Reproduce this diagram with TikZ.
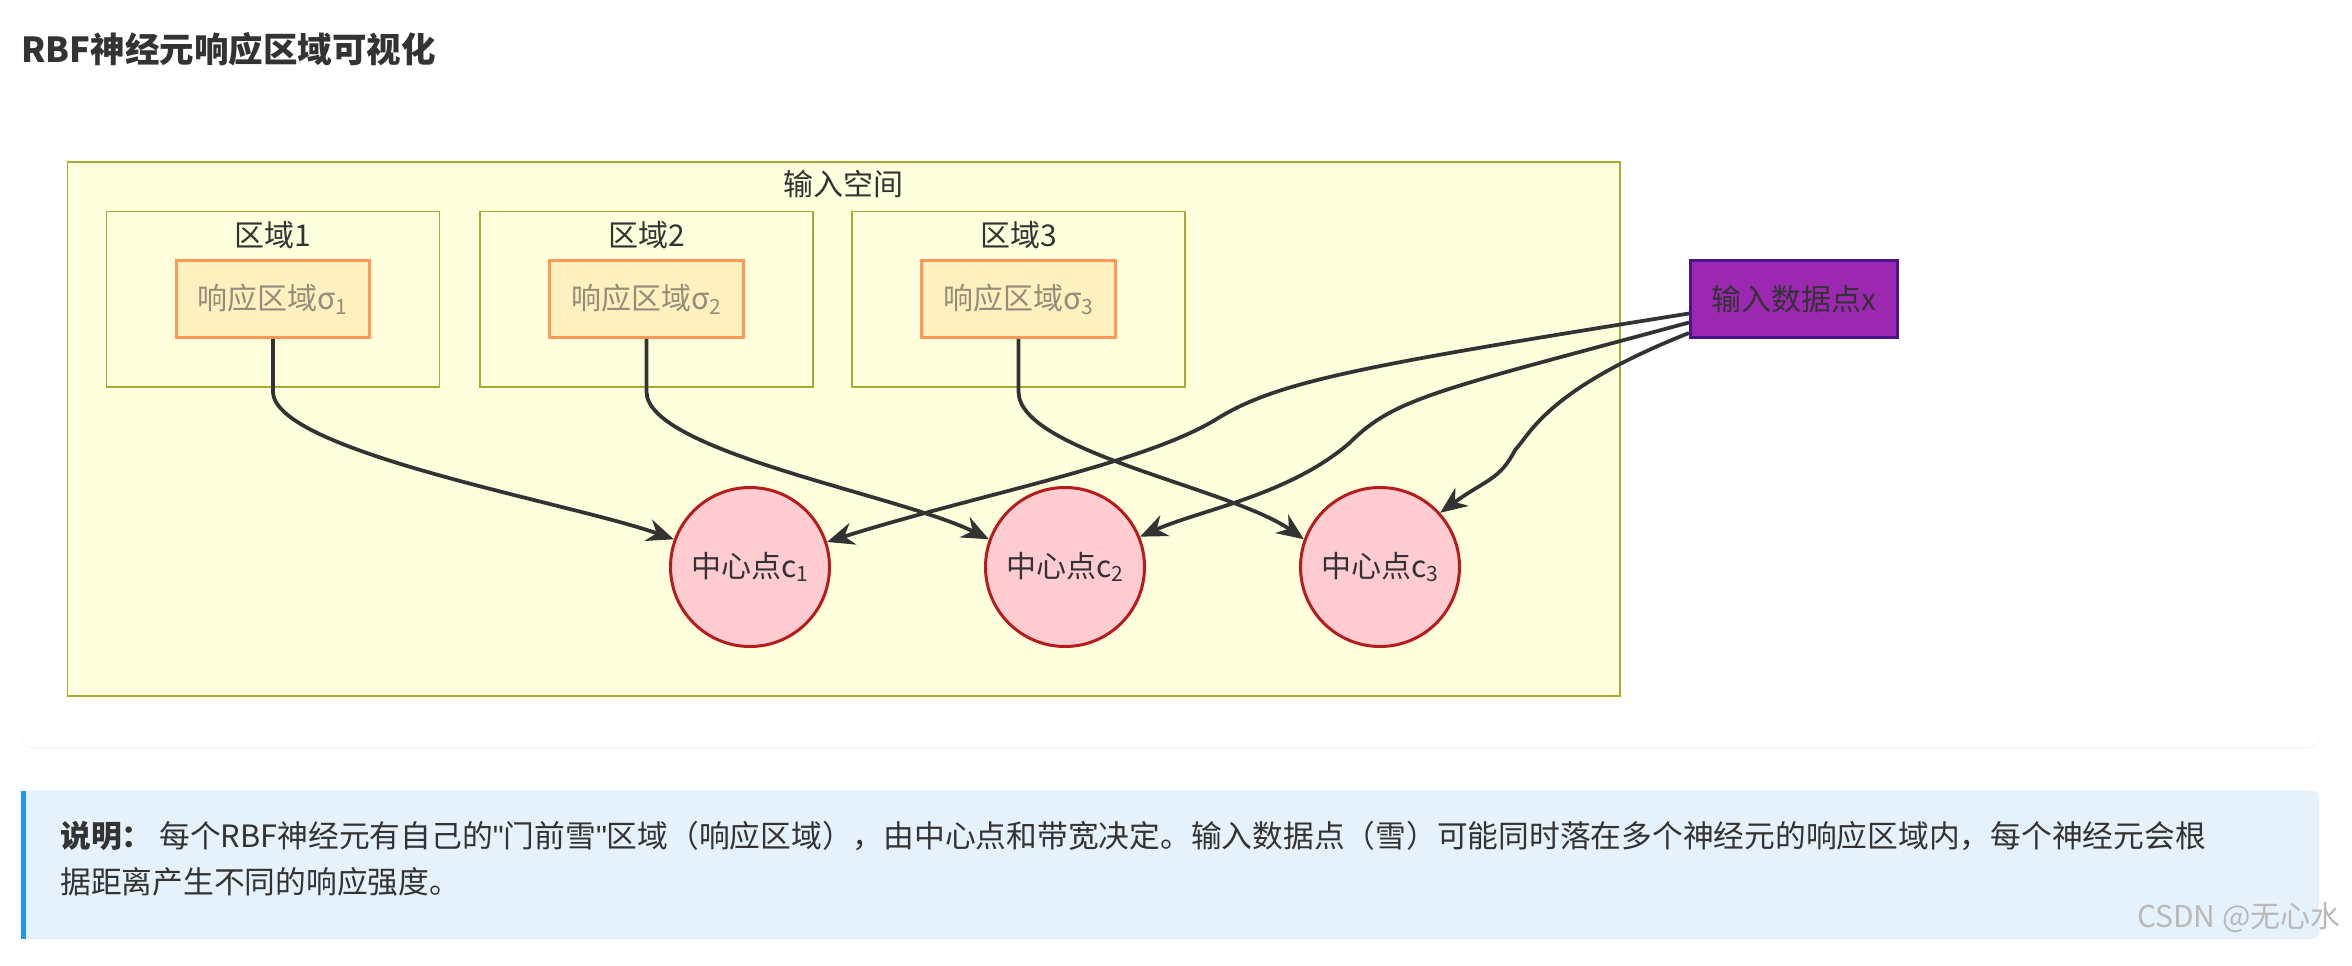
\documentclass[tikz,border=0pt]{standalone}
\usepackage{fontspec}
\setmainfont{Noto Sans CJK SC}
\newfontfamily\latq{Liberation Sans}
\usetikzlibrary{arrows.meta,shadows}
\definecolor{txt}{HTML}{333333}
\definecolor{ybg}{HTML}{FFFFDE}
\definecolor{ybd}{HTML}{AAAA33}
\definecolor{obg}{HTML}{FFF0C0}
\definecolor{obd}{HTML}{FF9955}
\definecolor{rtx}{HTML}{958D78}
\definecolor{pbg}{HTML}{FFCCD2}
\definecolor{pbd}{HTML}{B71C1C}
\definecolor{xbg}{HTML}{9C27B0}
\definecolor{xbd}{HTML}{4A148C}
\definecolor{nbg}{HTML}{E5F2FB}
\definecolor{nbd}{HTML}{2196F3}
\tikzset{
  region/.style={draw=ybd,fill=ybg,line width=1pt},
  resp/.style={draw=obd,fill=obg,line width=2pt,minimum width=129pt,minimum height=51pt,text=rtx,font=\fontsize{20}{24}\selectfont},
  center/.style={circle,draw=pbd,fill=pbg,line width=2pt,minimum size=106pt,text=txt,font=\fontsize{20}{24}\selectfont},
  lab/.style={text=txt,font=\fontsize{20}{24}\selectfont},
  conn/.style={draw=txt,line width=2.5pt,-{Stealth[length=18pt,width=15pt]}},
}
\begin{document}
\begin{tikzpicture}[x=1pt,y=-1pt]
\useasboundingbox (0,0) rectangle (1568,644);
\fill[white] (0,0) rectangle (1568,644);
\node[anchor=west,text=txt,font=\bfseries\fontsize{23}{28}\selectfont,inner sep=0pt] (title) at (14,33) {RBF神经元响应区域可视化};
\fill[white,rounded corners=8pt,drop shadow={opacity=0.08,shadow xshift=0pt,shadow yshift=-1pt}] (14,75) rectangle (1546,498);
\draw[region] (45,108) rectangle (1080,464);
\node[lab] (space) at (562,123) {输入空间};
\foreach \i/\x in {1/71,2/320,3/568}{
  \draw[region] (\x,141) rectangle (\x+222,258);
  \node[lab] (rl\i) at (\x+111,157) {区域\i};
  \node[resp] (r\i) at (\x+111,199.5) {响应区域σ\textsubscript{\i}};
}
\node[center] (c1) at (500,378) {中心点c\textsubscript{1}};
\node[center] (c2) at (710,378) {中心点c\textsubscript{2}};
\node[center] (c3) at (920,378) {中心点c\textsubscript{3}};
\node[draw=xbd,fill=xbg,line width=2pt,minimum width=138pt,minimum height=51pt,text=txt,font=\fontsize{20}{24}\selectfont,inner sep=2pt] (x) at (1196,199.5) {输入数据点x};
\draw[conn] (r1.south) -- ++(0,35) .. controls +(0,40) and (380,335) .. (c1.160);
\draw[conn] (r2.south) -- ++(0,35) .. controls +(0,40) and (600,330) .. (c2.160);
\draw[conn] (r3.south) -- ++(0,35) .. controls +(0,40) and (820,325) .. (c3.160);
\draw[conn] (x.west |- 0,209) .. controls (900,245) and (850,255) .. (810,280) .. controls (760,310) and (650,330) .. (c1.18);
\draw[conn] (x.west |- 0,215) .. controls (960,260) and (930,265) .. (900,295) .. controls (860,330) and (800,340) .. (c2.22);
\draw[conn] (x.west |- 0,222) .. controls (1030,260) and (1020,290) .. (1010,300) .. controls (1000,320) and (990,320) .. (c3.42);
\fill[nbg,rounded corners=5pt] (14,527) rectangle (1546,626);
\fill[nbd] (14,527) rectangle (17.5,626);
\node[anchor=north west,text=txt,font=\fontsize{20.5}{31}\selectfont,inner sep=0pt,align=left] (note) at (40,547) {\textbf{说明：} 每个RBF神经元有自己的{\latq "}门前雪{\latq "}区域（响应区域），由中心点和带宽决定。输入数据点（雪）可能同时落在多个神经元的响应区域内，每个神经元会根\\据距离产生不同的响应强度。};
\node[anchor=east,text=gray!55,font=\fontsize{20}{22}\selectfont] (wm) at (1564,612) {CSDN @无心水};
\end{tikzpicture}
\end{document}
